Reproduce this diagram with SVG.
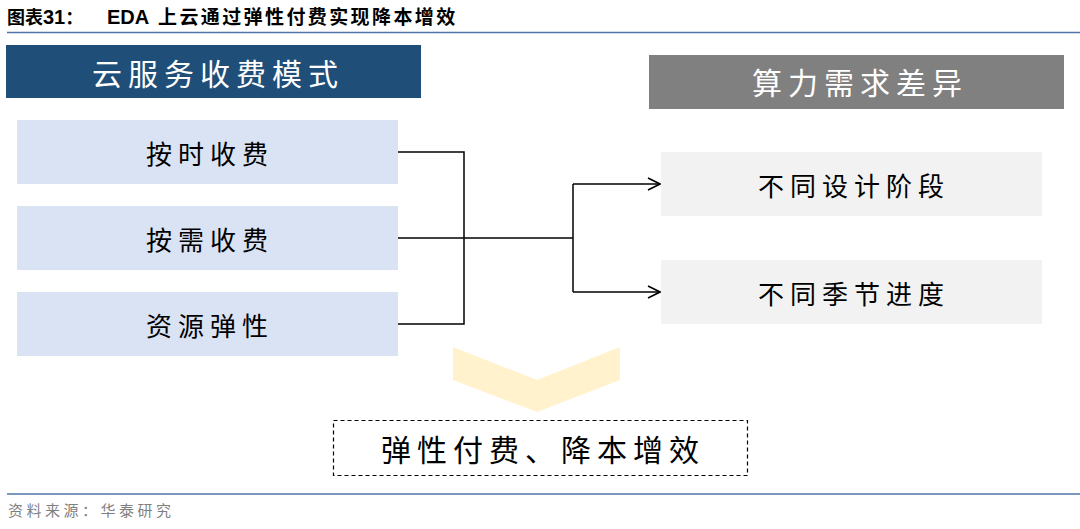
<svg xmlns="http://www.w3.org/2000/svg" width="1080" height="529" viewBox="0 0 1080 529">
<defs>
<style>
.cjk{font-family:"Noto Sans CJK SC","Liberation Sans",sans-serif;}
.hdr{font-size:30px;fill:#ffffff;text-anchor:middle;letter-spacing:6px;}
.lbl{font-size:26px;fill:#000000;text-anchor:middle;letter-spacing:6px;}
.lbox{fill:#dae3f3;}
.rbox{fill:#f2f2f2;}
.conn{fill:none;stroke:#000000;stroke-width:1.5;}
</style>
<marker id="arr" viewBox="0 0 14 14" refX="13" refY="7" markerWidth="14" markerHeight="14" markerUnits="userSpaceOnUse" orient="auto">
<path d="M1,1 L13,7 L1,13" fill="none" stroke="#000" stroke-width="1.6"/>
</marker>
</defs>
<rect width="1080" height="529" fill="#ffffff"/>
<g id="title">
<text x="7" y="24" class="cjk" font-size="18" font-weight="bold" fill="#000">图表<tspan font-family="Liberation Sans" font-size="20">31</tspan>：</text>
<text x="107" y="24" class="cjk" font-size="19" font-weight="bold" fill="#000"><tspan font-family="Liberation Sans" font-size="20">EDA</tspan><tspan x="158" letter-spacing="2.4">上云通过弹性付费实现降本增效</tspan></text>
<line x1="7" y1="32.5" x2="1080" y2="32.5" stroke="#4f74a8" stroke-width="1.5"/>
</g>
<g id="hdr-left">
<rect x="6" y="45" width="415" height="53" fill="#1f4e79"/>
<text x="218" y="85" class="cjk hdr">云服务收费模式</text>
</g>
<g id="hdr-right">
<rect x="649" y="55" width="415" height="54" fill="#808080"/>
<text x="860" y="94" class="cjk hdr">算力需求差异</text>
</g>
<g id="n1"><rect x="17" y="120" width="381" height="64" class="lbox"/><text x="210" y="164" class="cjk lbl">按时收费</text></g>
<g id="n2"><rect x="17" y="206" width="381" height="64" class="lbox"/><text x="210" y="250" class="cjk lbl">按需收费</text></g>
<g id="n3"><rect x="17" y="292" width="381" height="64" class="lbox"/><text x="210" y="336" class="cjk lbl">资源弹性</text></g>
<g id="r1"><rect x="661" y="152" width="381" height="64" class="rbox"/><text x="854" y="196" class="cjk lbl">不同设计阶段</text></g>
<g id="r2"><rect x="661" y="260" width="381" height="64" class="rbox"/><text x="854" y="304" class="cjk lbl">不同季节进度</text></g>
<g id="connectors">
<polyline class="conn" points="398,152 464,152 464,324 398,324"/>
<line class="conn" x1="398" y1="238" x2="573" y2="238"/>
<line class="conn" x1="573" y1="184" x2="573" y2="292"/>
<line class="conn" x1="573" y1="184" x2="660" y2="184" marker-end="url(#arr)"/>
<line class="conn" x1="573" y1="292" x2="660" y2="292" marker-end="url(#arr)"/>
</g>
<g id="chevron">
<polygon points="453,347 537,380 620,347 620,380 537,412 453,380" fill="#fff2cc"/>
</g>
<g id="result">
<rect x="333.5" y="420.5" width="414" height="55" fill="none" stroke="#000" stroke-width="1.2" stroke-dasharray="4,3"/>
<text x="543" y="461" class="cjk" font-size="30" text-anchor="middle" letter-spacing="6" fill="#000">弹性付费、降本增效</text>
</g>
<g id="footer">
<line x1="7" y1="494" x2="1080" y2="494" stroke="#4f74a8" stroke-width="1.5"/>
<text x="8" y="516" class="cjk" font-size="15" fill="#7f7f7f" letter-spacing="3.5">资料来源：华泰研究</text>
</g>
</svg>
